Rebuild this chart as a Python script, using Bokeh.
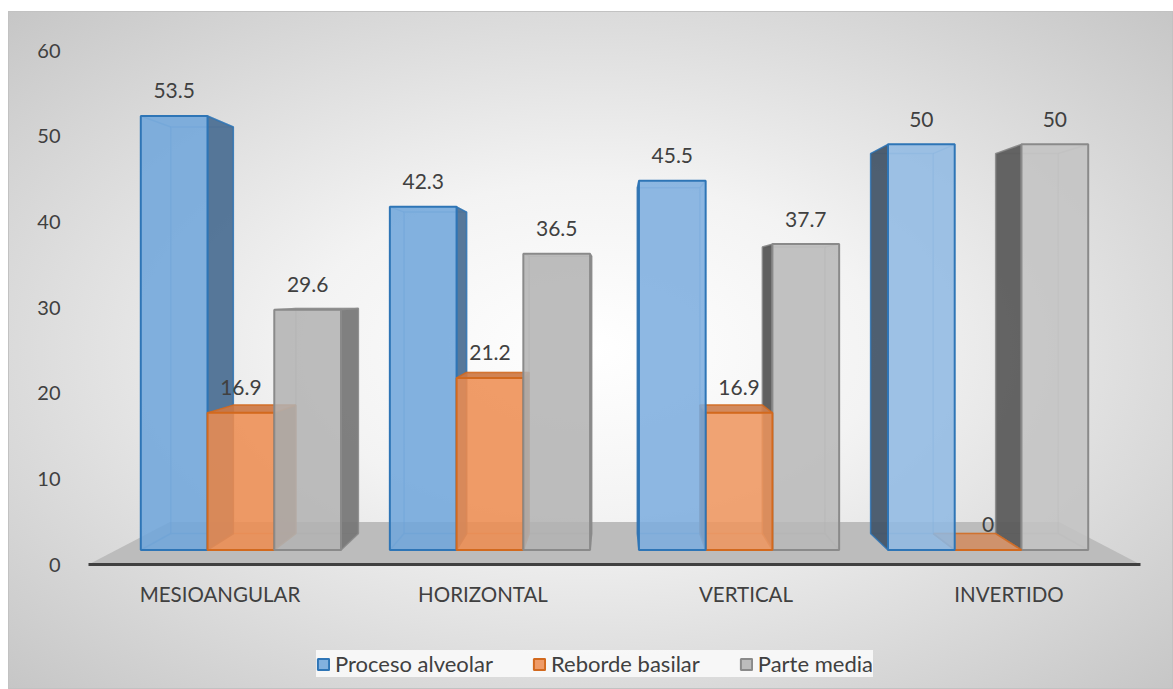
from bokeh.plotting import figure
from bokeh.layouts import column
from bokeh.models import Range1d, FixedTicker, Legend, LegendItem, ColumnDataSource
from bokeh.core.properties import value
from bokeh.embed import file_html
from bokeh.resources import INLINE

# ---------------- data ----------------
categories = ["MESIOANGULAR", "HORIZONTAL", "VERTICAL", "INVERTIDO"]
proceso_alveolar = [53.5, 42.3, 45.5, 50]
reborde_basilar = [16.9, 21.2, 16.9, 0]
parte_media = [29.6, 36.5, 37.7, 50]
series_names = ["Proceso alveolar", "Reborde basilar", "Parte media"]
y_ticks = [0, 10, 20, 30, 40, 50, 60]

series_values = [proceso_alveolar, reborde_basilar, parte_media]

# ---------------- style ----------------
face_colors = ["#6fa5db", "#ee8c4f", "#b2b2b2"]
edge_colors = ["#2e75b6", "#d2691e", "#8a8a8a"]
group_light = [0.0, 0.0, 0.08, 0.22]
TEXT = "#404040"
FONT = "Lato"

# perspective (vanishing point in data space, depth scale factors)
VX, VY = 1.5, 32.0
S_FRONT, S_BACK, S_FLOOR = 0.947, 0.887, 0.845
BAR_W = 0.268


def proj(x, y, s):
    return VX + s * (x - VX), VY + s * (y - VY)


def _rgb(c):
    return [int(c[k:k + 2], 16) for k in (1, 3, 5)]


def lighten(c, f):
    return "#%02x%02x%02x" % tuple(round(v + (255 - v) * f) for v in _rgb(c))


def darken(c, k):
    return "#%02x%02x%02x" % tuple(round(v * k) for v in _rgb(c))


p = figure(width=1165, height=609,
           x_range=Range1d(-0.5, 3.5), y_range=Range1d(0, 60),
           output_backend="svg", toolbar_location=None,
           min_border_left=80, min_border_right=33,
           min_border_top=39, min_border_bottom=56,
           border_fill_color=None, background_fill_color=None,
           outline_line_color=None)

p.xgrid.visible = False
p.ygrid.visible = False

# floor
fx, fy = [], []
for (x, s) in [(-0.5, 1.0), (3.5, 1.0), (3.5, S_FLOOR), (-0.5, S_FLOOR)]:
    a, b = proj(x, 0, s)
    fx.append(a)
    fy.append(b)
p.patch(fx, fy, fill_color="#bcbcbc", line_color=None)

label_x, label_y, label_t = [], [], []
first_front = {}

for i in range(len(categories)):
    bars = []
    for j in range(3):
        x0 = i + (j - 1.5) * BAR_W
        x1 = x0 + BAR_W
        bars.append((abs((x0 + x1) / 2 - VX), j, x0, x1, series_values[j][i]))
    bars.sort(key=lambda t: -t[0])
    for _, j, x0, x1, v in bars:
        fc = lighten(face_colors[j], group_light[i])
        ec = edge_colors[j]

        def F(x, y):
            return proj(x, y, S_FRONT)

        def B(x, y):
            return proj(x, y, S_BACK)

        # hidden edges (back rectangle + connecting edges)
        back = [B(x0, 0), B(x1, 0), B(x1, v), B(x0, v), B(x0, 0)]
        xs = [[q[0] for q in back]]
        ys = [[q[1] for q in back]]
        for (cx, cy) in [(x0, 0), (x1, 0), (x1, v), (x0, v)]:
            a, b = F(cx, cy), B(cx, cy)
            xs.append([a[0], b[0]])
            ys.append([a[1], b[1]])
        p.multi_line(xs, ys, line_color=ec, line_alpha=0.35, line_width=1.5)

        # visible side face
        side = None
        if x1 < VX:
            side = ([F(x1, 0), B(x1, 0), B(x1, v), F(x1, v)], darken(fc, 0.66))
        elif x0 > VX:
            side = ([F(x0, 0), B(x0, 0), B(x0, v), F(x0, v)], darken(fc, 0.45))
        if side is not None:
            pts, col = side
            p.patch([q[0] for q in pts], [q[1] for q in pts], fill_color=col,
                    fill_alpha=0.92, line_color=ec, line_alpha=0.8, line_width=1.5)

        # top face
        if v < VY:
            pts = [F(x0, v), F(x1, v), B(x1, v), B(x0, v)]
            p.patch([q[0] for q in pts], [q[1] for q in pts], fill_color=darken(fc, 0.86),
                    fill_alpha=0.92, line_color=ec, line_alpha=0.8, line_width=1.5)

        # front face
        pts = [F(x0, 0), F(x1, 0), F(x1, v), F(x0, v)]
        p.patch([q[0] for q in pts], [q[1] for q in pts], fill_color=fc,
                fill_alpha=0.86, line_color=ec, line_width=2)
        if i == 0:
            first_front[j] = pts

        tx, ty = F((x0 + x1) / 2, v)
        label_x.append(tx)
        label_y.append(ty)
        label_t.append(f"{v:g}")

src = ColumnDataSource(dict(x=label_x, y=label_y, t=label_t))
p.text("x", "y", text="t", source=src, text_align="center", text_baseline="middle",
       y_offset=-25, text_font=value(FONT), text_font_size="21px", text_color=TEXT)

# axes
p.xaxis.ticker = FixedTicker(ticks=list(range(len(categories))))
p.xaxis.major_label_overrides = {k: c for k, c in enumerate(categories)}
p.xaxis.axis_line_color = "#404040"
p.xaxis.axis_line_width = 3
p.xaxis.major_tick_line_color = None
p.xaxis.minor_tick_line_color = None
p.xaxis.major_tick_out = 0
p.xaxis.major_label_standoff = 17
p.xaxis.major_label_text_font = FONT
p.xaxis.major_label_text_font_size = "20.5px"
p.xaxis.major_label_text_color = TEXT

p.yaxis.ticker = FixedTicker(ticks=y_ticks)
p.yaxis.axis_line_color = None
p.yaxis.major_tick_line_color = None
p.yaxis.minor_tick_line_color = None
p.yaxis.major_label_standoff = 22
p.yaxis.major_label_text_font = FONT
p.yaxis.major_label_text_font_size = "20px"
p.yaxis.major_label_text_color = TEXT

# legend in a separate strip below the chart (its frame is aligned with the chart frame)
leg = figure(width=1165, height=69, x_range=Range1d(10, 11), y_range=Range1d(100, 101),
             output_backend="svg", toolbar_location=None,
             x_axis_type=None, y_axis_type=None, min_border=0,
             border_fill_color=None, background_fill_color=None, outline_line_color=None)
leg.xgrid.visible = False
leg.ygrid.visible = False
items = []
for j in range(3):
    pts = first_front[j]
    r = leg.patch([q[0] for q in pts], [q[1] for q in pts], fill_color=face_colors[j],
                  fill_alpha=0.86, line_color=edge_colors[j], line_width=2)
    items.append(LegendItem(label=series_names[j], renderers=[r]))
legend = Legend(items=items, orientation="horizontal", location=(228, 12),
                glyph_width=14, glyph_height=14, label_standoff=5, spacing=39,
                padding=9, margin=0, border_line_color=None,
                background_fill_color="#fbfbfb", background_fill_alpha=0.85,
                label_text_font=FONT, label_text_font_size="22px", label_text_color=TEXT)
leg.add_layout(legend)

layout = column(p, leg, spacing=0, margin=(11, 0, 0, 8),
                styles={"background": "radial-gradient(ellipse farthest-corner at 50% 50%, #ffffff 0%, #f3f3f3 35%, #c6c6c6 100%)",
                        "box-shadow": "inset 0 0 0 1px #c2c2c2"})

open("out.html", "w").write(file_html(layout, INLINE))
